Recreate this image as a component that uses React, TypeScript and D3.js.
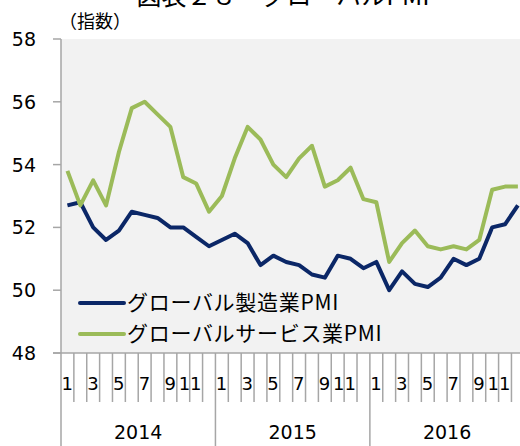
import React, {useEffect, useRef} from 'react';
import * as d3 from 'd3';

// monthly values, Jan 2014 .. Dec 2016
const years = ['2014', '2015', '2016'];
const monthLabels = ['1', '', '3', '', '5', '', '7', '', '9', '', '11', ''];
const manufacturing = [
    52.7, 52.8, 52.0, 51.6, 51.9, 52.5, 52.4, 52.3, 52.0, 52.0, 51.7, 51.4,
    51.6, 51.8, 51.5, 50.8, 51.1, 50.9, 50.8, 50.5, 50.4, 51.1, 51.0, 50.7,
    50.9, 50.0, 50.6, 50.2, 50.1, 50.4, 51.0, 50.8, 51.0, 52.0, 52.1, 52.7
];
const services = [
    53.8, 52.7, 53.5, 52.7, 54.4, 55.8, 56.0, 55.6, 55.2, 53.6, 53.4, 52.5,
    53.0, 54.2, 55.2, 54.8, 54.0, 53.6, 54.2, 54.6, 53.3, 53.5, 53.9, 52.9,
    52.8, 50.9, 51.5, 51.9, 51.4, 51.3, 51.4, 51.3, 51.6, 53.2, 53.3, 53.3
];
const yTicks = [48, 50, 52, 54, 56, 58];
const seriesNames = ['グローバル製造業PMI', 'グローバルサービス業PMI'];
const seriesColors = ['#0b2767', '#9bbb59'];

const width = 520;
const height = 446;
const left = 61;
const top = 39;
const plotBottom = 353;
const monthW = 12.87;
const latin = '"DejaVu Sans", "Noto Sans CJK JP", sans-serif';
const jp = '"Noto Sans CJK JP", sans-serif';

const App = () => {
    const svgRef = useRef(null);

    useEffect(() => {
        const svg = d3.select(svgRef.current);
        svg.selectAll('*').remove();

        const idx = d3.range(manufacturing.length);
        const x = d3.scaleBand().domain(idx).range([left, left + monthW * idx.length]);
        const y = d3.scaleLinear().domain([48, 58]).range([plotBottom, top]);

        // title (cut off at top, as in the source)
        svg.append('text')
            .attr('x', 283).attr('y', 5)
            .attr('text-anchor', 'middle')
            .style('font-family', jp).style('font-size', '25px')
            .text('図表２８　グローバルPMI');

        svg.append('text')
            .attr('x', 59).attr('y', 28)
            .style('font-family', jp).style('font-size', '18px')
            .text('（指数）');

        // plot background
        svg.append('rect')
            .attr('x', left).attr('y', top)
            .attr('width', width - left).attr('height', plotBottom - top)
            .attr('fill', '#f2f2f2');

        // y axis
        const axisColor = '#a6a6a6';
        svg.append('line')
            .attr('x1', left).attr('x2', left)
            .attr('y1', top).attr('y2', height)
            .attr('stroke', axisColor).attr('stroke-width', 1.5);
        yTicks.forEach((t) => {
            svg.append('line')
                .attr('x1', left - 8).attr('x2', left)
                .attr('y1', y(t)).attr('y2', y(t))
                .attr('stroke', axisColor).attr('stroke-width', 1.5);
            svg.append('text')
                .attr('x', 36).attr('y', y(t) + 7)
                .attr('text-anchor', 'end')
                .style('font-family', latin).style('font-size', '19px')
                .text(t);
        });

        // x axis line
        svg.append('line')
            .attr('x1', left - 8).attr('x2', width)
            .attr('y1', plotBottom).attr('y2', plotBottom)
            .attr('stroke', axisColor).attr('stroke-width', 1.5);

        // month ticks and labels
        idx.forEach((i) => {
            const x1 = x(i) + x.bandwidth();
            const yearEnd = (i + 1) % 12 === 0;
            svg.append('line')
                .attr('x1', x1).attr('x2', x1)
                .attr('y1', plotBottom).attr('y2', yearEnd ? height : 402)
                .attr('stroke', axisColor).attr('stroke-width', 1.5);
            const lab = monthLabels[i % 12];
            if (lab) {
                svg.append('text')
                    .attr('x', x1 - 1).attr('y', 390)
                    .attr('text-anchor', 'end')
                    .style('font-family', latin).style('font-size', '18px')
                    .text(lab);
            }
        });

        years.forEach((yr, k) => {
            const cx = x(k * 12) + x.bandwidth() * 6;
            svg.append('text')
                .attr('x', cx).attr('y', 439)
                .attr('text-anchor', 'middle')
                .style('font-family', latin).style('font-size', '19px')
                .text(yr);
        });

        // lines
        const line = d3.line()
            .x((d, i) => x(i) + x.bandwidth() / 2)
            .y((d) => y(d));
        [manufacturing, services].forEach((s, k) => {
            svg.append('path')
                .datum(s)
                .attr('d', line)
                .attr('fill', 'none')
                .attr('stroke', seriesColors[k])
                .attr('stroke-width', 4)
                .attr('stroke-linejoin', 'round');
        });

        // legend
        seriesNames.forEach((name, k) => {
            const ly = 303 + k * 31;
            svg.append('line')
                .attr('x1', 80).attr('x2', 124)
                .attr('y1', ly).attr('y2', ly)
                .attr('stroke', seriesColors[k])
                .attr('stroke-width', 4)
                .attr('stroke-linecap', 'round');
            svg.append('text')
                .attr('x', 127).attr('y', ly + 7)
                .style('font-family', jp).style('font-size', '21px')
                .style('letter-spacing', '0.7px')
                .text(name);
        });
    }, []);

    return <svg ref={svgRef} width={width} height={height}
                style={{position: 'absolute', left: 0, top: 0, background: '#fff'}}/>;
};

export default App;
